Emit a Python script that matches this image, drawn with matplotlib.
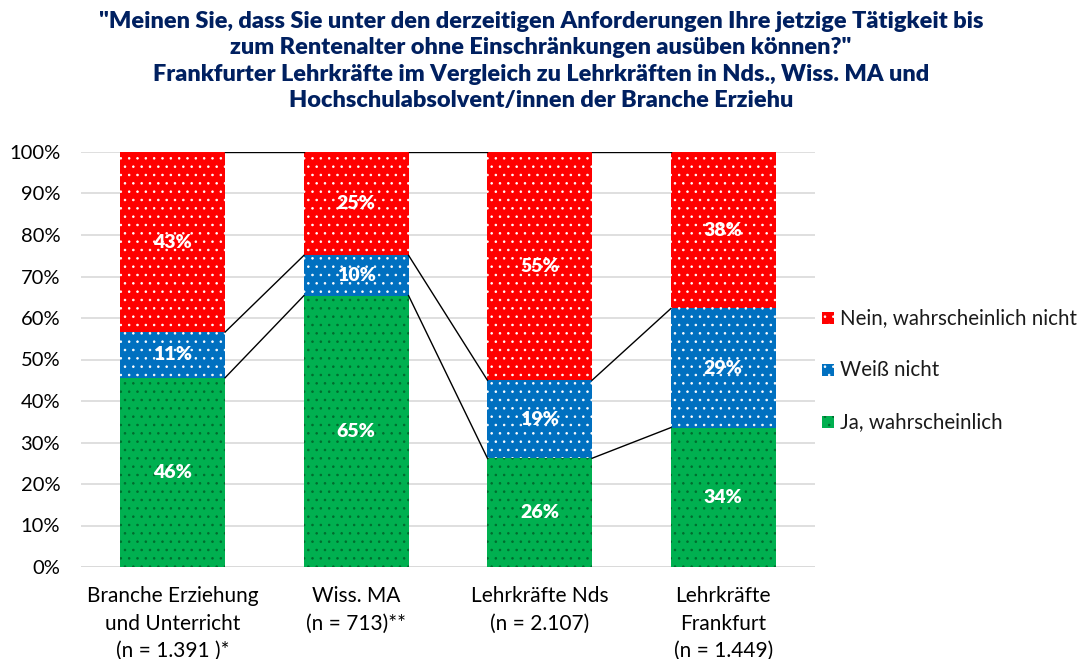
import matplotlib
matplotlib.use("Agg")
import matplotlib.pyplot as plt
import numpy as np

plt.rcParams['font.family'] = ['Lato', 'DejaVu Sans']
plt.rcParams['hatch.linewidth'] = 0.6

categories = ["Branche Erziehung\nund Unterricht\n(n = 1.391 )*",
              "Wiss. MA\n(n = 713)**",
              "Lehrkräfte Nds\n(n = 2.107)",
              "Lehrkräfte\nFrankfurt\n(n = 1.449)"]
ja = [45.6, 65.4, 26.2, 33.6]
weiss = [11.0, 9.7, 18.8, 28.7]
nein = [43.4, 24.9, 55.0, 37.7]
ja_labels = ["46%", "65%", "26%", "34%"]
weiss_labels = ["11%", "10%", "19%", "29%"]
nein_labels = ["43%", "25%", "55%", "38%"]
series_names = ["Ja, wahrscheinlich", "Weiß nicht", "Nein, wahrscheinlich nicht"]

colors = ["#00B050", "#0070C0", "#FF0000"]
hatch_colors = ["#006B2E", "white", "white"]

fig = plt.figure(figsize=(10.81, 6.59), dpi=100)
ax = fig.add_axes([81/1081, 1-567/659, 734/1081, 415/659])

x = np.arange(len(categories))
w = 0.57
bottoms = np.zeros(len(categories))
series = [ja, weiss, nein]
labels = [ja_labels, weiss_labels, nein_labels]
for vals, col, hc, labs in zip(series, colors, hatch_colors, labels):
    vals = np.array(vals)
    ax.bar(x, vals, w, bottom=bottoms, color=col, edgecolor=hc, linewidth=0,
           hatch='..', zorder=2)
    for xi, b, v, lab in zip(x, bottoms, vals, labs):
        ax.text(xi, b + v / 2, lab, ha='center', va='center', color='white',
                fontsize=14, fontweight='heavy', zorder=4)
    tops = bottoms + vals
    for i in range(len(x) - 1):
        ax.plot([x[i] + w / 2, x[i + 1] - w / 2], [tops[i], tops[i + 1]],
                color='black', linewidth=1, zorder=3)
    bottoms = tops

ax.set_xlim(-0.5, len(categories) - 0.5)
ax.set_ylim(0, 100)
ax.set_yticks(np.arange(0, 101, 10))
ax.set_yticklabels([f"{v}%" for v in range(0, 101, 10)], fontsize=14.5)
ax.set_xticks(x)
ax.set_xticklabels(categories, fontsize=15, linespacing=1.45, va='top')
ax.tick_params(length=0)
ax.tick_params(axis='y', pad=15)
ax.tick_params(axis='x', pad=14)
ax.grid(axis='y', color='#D9D9D9', linewidth=1.2, zorder=0)
ax.set_axisbelow(True)
for s in ax.spines.values():
    s.set_visible(False)
ax.axhline(0, color='#D9D9D9', linewidth=1.2, zorder=1)

# legend
leg_y = [422, 370, 318]
for name, col, hc, yy in zip(series_names, colors, hatch_colors, leg_y):
    fig.patches.append(plt.Rectangle((822/1081, 1-(yy+6)/659), 12/1081, 12/659,
                                     transform=fig.transFigure, facecolor=col,
                                     edgecolor=hc, linewidth=0, hatch='..'))
    fig.text(840/1081, 1-yy/659, name, fontsize=14.8, va='center', ha='left', color='#1a1a1a')

title = ('"Meinen Sie, dass Sie unter den derzeitigen Anforderungen Ihre jetzige Tätigkeit bis\n'
         'zum Rentenalter ohne Einschränkungen ausüben können?"\n'
         'Frankfurter Lehrkräfte im Vergleich zu Lehrkräften in Nds., Wiss. MA und\n'
         'Hochschulabsolvent/innen der Branche Erziehu')
fig.text(541/1081, 1-11/659, title, ha='center', va='top', fontsize=16.9,
         fontweight='heavy', color='#002060', linespacing=1.32)

fig.savefig("out.png", dpi=100)
